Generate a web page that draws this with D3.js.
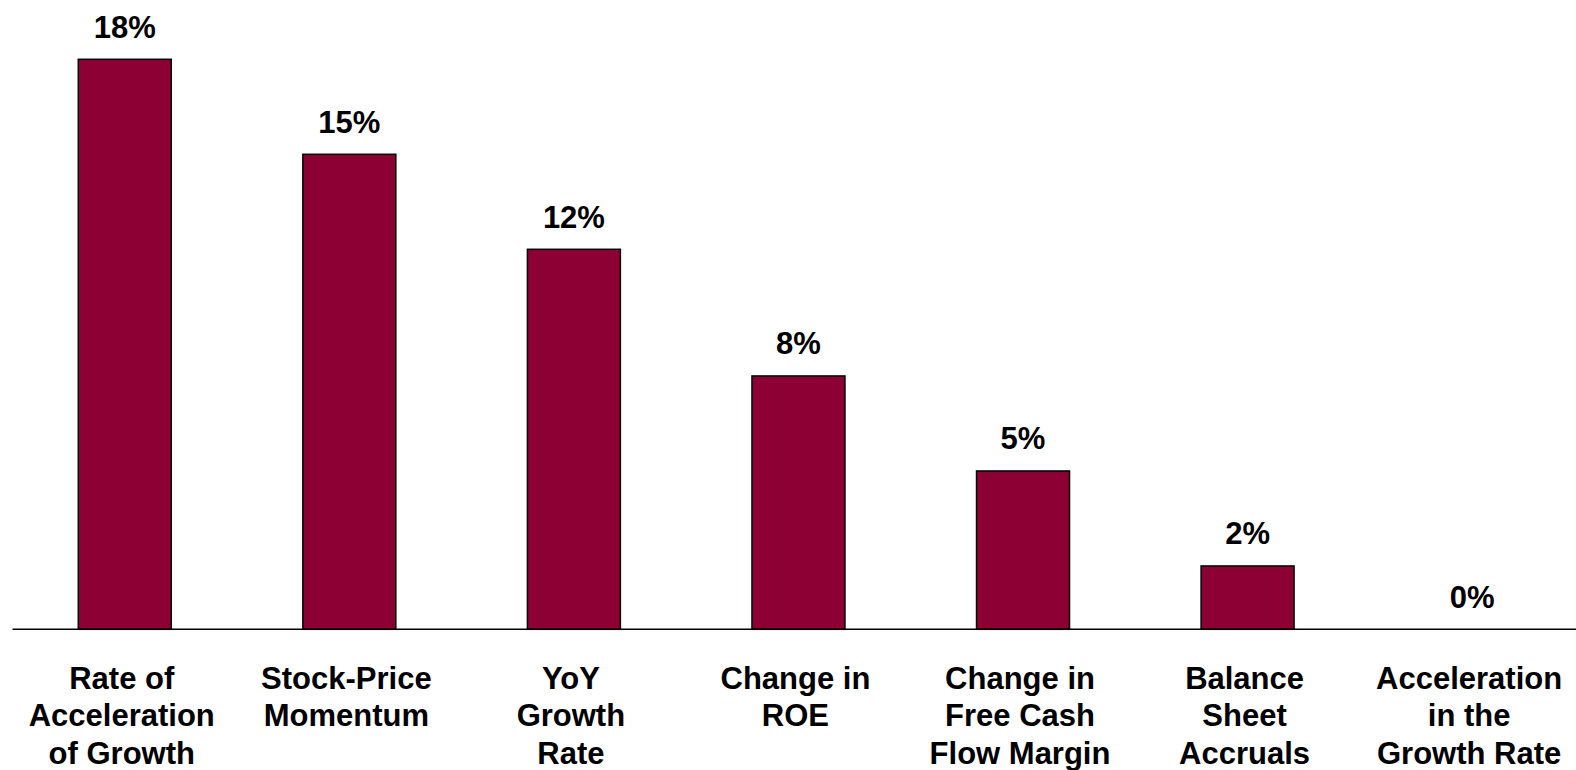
<!DOCTYPE html>
<html>
<head>
<meta charset="utf-8">
<script src="https://cdn.jsdelivr.net/npm/d3@7"></script>
<style>
  html, body { margin: 0; padding: 0; background: #fff; overflow: hidden; }
  svg text { font-family: "Liberation Sans", Arial, sans-serif; font-weight: bold; fill: #000; }
</style>
</head>
<body>
<svg id="chart" width="1576" height="770"></svg>
<script>
// Factor names (one line per array entry) and their shares, in percent
const categories = [
  ["Rate of", "Acceleration", "of Growth"],
  ["Stock-Price", "Momentum"],
  ["YoY", "Growth", "Rate"],
  ["Change in", "ROE"],
  ["Change in", "Free Cash", "Flow Margin"],
  ["Balance", "Sheet", "Accruals"],
  ["Acceleration", "in the", "Growth Rate"]
];
const values = [18, 15, 12, 8, 5, 2, 0];
const valueLabels = ["18%", "15%", "12%", "8%", "5%", "2%", "0%"];

const svg = d3.select("#chart");
const W = 1576;

const keys = categories.map((c, i) => i);
const x = d3.scaleBand()
  .domain(keys)
  .range([12.5, 12.5 + 7 * 224.56])
  .paddingInner(0.586)
  .paddingOuter(0.293);

const y = d3.scaleLinear().domain([0, 18]).range([629.3, 59.3]);

// Bars
svg.append("g")
  .selectAll("rect")
  .data(values)
  .join("rect")
  .attr("x", (d, i) => x(i))
  .attr("y", d => y(d))
  .attr("width", x.bandwidth())
  .attr("height", d => y(0) - y(d))
  .attr("fill", "#8C0033")
  .attr("stroke", "#000")
  .attr("stroke-width", 1.5);

// Baseline
svg.append("line")
  .attr("x1", 12.5).attr("x2", W)
  .attr("y1", y(0)).attr("y2", y(0))
  .attr("stroke", "#000")
  .attr("stroke-width", 1.6);

// Value labels above bars
svg.append("g")
  .selectAll("text")
  .data(values)
  .join("text")
  .attr("x", (d, i) => x(i) + x.bandwidth() / 2)
  .attr("y", d => y(d) - 21.5)
  .attr("text-anchor", "middle")
  .style("font-size", "31px")
  .text((d, i) => valueLabels[i]);

// Category labels below the baseline
const cat = svg.append("g")
  .selectAll("text")
  .data(categories)
  .join("text")
  .attr("text-anchor", "middle")
  .style("font-size", "31px");

cat.each(function(lines, i) {
  const t = d3.select(this);
  const cx = x(i) + x.bandwidth() / 2 - 3;
  lines.forEach((ln, j) => {
    t.append("tspan")
      .attr("x", cx)
      .attr("y", 688.5 + j * 37.8)
      .text(ln);
  });
});
</script>
</body>
</html>
